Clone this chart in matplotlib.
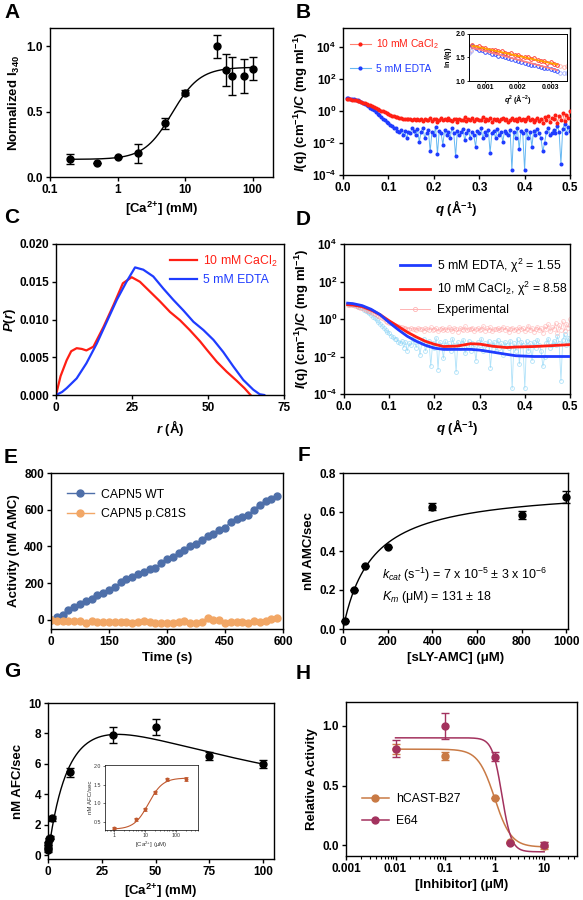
import numpy as np
import matplotlib
matplotlib.use("Agg")
import matplotlib.pyplot as plt
from matplotlib.lines import Line2D
from matplotlib.ticker import FixedLocator, NullLocator, LogLocator, NullFormatter

plt.rcParams.update({
    "font.family": ["Liberation Sans", "DejaVu Sans"],
    "font.weight": "bold",
    "mathtext.fontset": "custom",
    "mathtext.rm": "Liberation Sans:weight=normal",
    "mathtext.it": "Liberation Sans:italic:weight=normal",
    "mathtext.bf": "Liberation Sans:bold",
    "mathtext.bfit": "Liberation Sans:italic:bold",
    "axes.linewidth": 1.0,
    "xtick.major.width": 1.0, "ytick.major.width": 1.0,
    "xtick.minor.width": 0.8, "ytick.minor.width": 0.8,
    "xtick.major.size": 3, "ytick.major.size": 3,
    "xtick.minor.size": 2, "ytick.minor.size": 2,
    "xtick.major.pad": 2, "ytick.major.pad": 2,
    "xtick.labelsize": 8.5, "ytick.labelsize": 8.5,
    "axes.labelsize": 9.5, "axes.labelweight": "bold",
    "axes.labelpad": 3,
    "legend.frameon": False,
})

# ---------------- data ----------------
# A: Ca2+ titration, normalized I340
a_ca = [0.2, 0.5, 1, 2, 5, 10, 30, 40, 50, 75, 100]
a_i340 = [0.138, 0.108, 0.155, 0.18, 0.41, 0.645, 1.0, 0.82, 0.775, 0.775, 0.83]
a_err = [0.04, 0.0, 0.0, 0.07, 0.04, 0.02, 0.09, 0.12, 0.145, 0.13, 0.09]
a_fit = dict(bottom=0.135, top=0.84, ec50=6.4, hill=2.1)

# B / D: SAXS curves
q = np.round(np.arange(0.008, 0.5001, 0.004), 3)
saxs_cacl2 = [5.8, 5.6, 5.5, 5.3, 5.0, 4.7, 4.4, 4.1, 3.7, 3.4,
              3.1, 2.8, 2.55, 2.3, 2.1, 1.9, 1.65, 1.45, 1.25, 1.08,
              0.95, 0.83, 0.73, 0.65, 0.58, 0.52, 0.47, 0.43, 0.40, 0.37,
              0.36, 0.33, 0.34, 0.31, 0.30, 0.32, 0.29,
              0.30, 0.26, 0.34, 0.28, 0.31, 0.24, 0.33, 0.29, 0.27, 0.36,
              0.25, 0.30, 0.32, 0.22, 0.29, 0.35, 0.27, 0.31, 0.26, 0.38,
              0.28, 0.24, 0.33, 0.30, 0.21, 0.34, 0.29, 0.27, 0.40, 0.25,
              0.31, 0.28, 0.35, 0.23, 0.30, 0.33, 0.26, 0.29, 0.42, 0.24,
              0.32, 0.27, 0.36, 0.22, 0.31, 0.28, 0.34, 0.25, 0.30, 0.39,
              0.26, 0.33, 0.20, 0.29, 0.35, 0.27, 0.31, 0.24, 0.37, 0.28,
              0.32, 0.23, 0.30, 0.45, 0.26, 0.34, 0.21, 0.29, 0.38, 0.25,
              0.33, 0.18, 0.41, 0.28, 0.52, 0.22, 0.36, 0.30, 0.60, 0.19,
              0.47, 0.27, 0.75, 0.24, 0.55, 0.35, 0.95]
saxs_edta = [6.5, 6.3, 6.1, 5.8, 5.4, 5.0, 4.6, 4.2, 3.7, 3.2,
             2.8, 2.4, 2.0, 1.65, 1.35, 1.1, 0.88, 0.70, 0.55, 0.43,
             0.34, 0.27, 0.21, 0.17, 0.13, 0.11, 0.085, 0.09, 0.06, 0.05,
             0.07, 0.03, 0.06, 0.02, 0.05, 0.04, 0.09,
             0.06, 0.03, 0.08, 0.012, 0.05, 0.09, 0.02, 0.04, 0.07, 0.003,
             0.05, 0.03, 0.10, 0.002, 0.06, 0.04, 0.008, 0.07, 0.03, 0.05,
             0.02, 0.09, 0.04, 0.0015, 0.06, 0.03, 0.05, 0.08, 0.015, 0.04,
             0.07, 0.02, 0.05, 0.03, 0.006, 0.06, 0.04, 0.09, 0.02, 0.05,
             0.03, 0.07, 0.0025, 0.04, 0.06, 0.02, 0.08, 0.03, 0.05, 0.012,
             0.06, 0.04, 0.03, 0.07, 0.0002, 0.05, 0.02, 0.09, 0.004, 0.06,
             0.04, 0.0002, 0.07, 0.02, 0.05, 0.006, 0.06, 0.03, 0.08, 0.04,
             0.02, 0.003, 0.01, 0.05, 0.09, 0.03, 0.04, 0.07, 0.04, 0.12,
             0.05, 0.0005, 0.08, 0.15, 0.04, 0.10, 0.06]

# B inset: Guinier region
guin_q2 = [0.0006, 0.0007, 0.0008, 0.0009, 0.0010, 0.0011, 0.0012, 0.0013, 0.0014,
           0.0015, 0.0016, 0.0017, 0.0018, 0.0019, 0.0020, 0.0021, 0.0022, 0.0023,
           0.0024, 0.0025, 0.0026, 0.0027, 0.0028, 0.0029, 0.0030, 0.0031, 0.0032]
guin_cacl2 = [1.76, 1.73, 1.74, 1.70, 1.71, 1.67, 1.66, 1.66, 1.63, 1.64, 1.60, 1.58,
              1.59, 1.55, 1.56, 1.52, 1.51, 1.50, 1.47, 1.48, 1.44, 1.43, 1.42, 1.39,
              1.40, 1.36, 1.35]
guin_edta = [1.74, 1.70, 1.66, 1.66, 1.62, 1.61, 1.58, 1.57, 1.54, 1.53, 1.50, 1.49,
             1.46, 1.45, 1.42, 1.41, 1.38, 1.37, 1.35, 1.34, 1.31, 1.30, 1.28, 1.27,
             1.25, 1.24, 1.21]
guin_out_q2 = [0.0005, 0.00055, 0.0033, 0.0034, 0.0035]
guin_out_cacl2 = [1.62, 1.66, 1.32, 1.30, 1.31]
guin_out_edta = [1.60, 1.64, 1.18, 1.17, 1.16]
guin_fit_q2 = [0.0006, 0.0032]
guin_fit_cacl2 = [1.75, 1.35]
guin_fit_edta = [1.71, 1.23]

# C: pair distance distribution
pr_r_cacl2 = [0, 1.5, 3.5, 5, 6.8, 8.5, 10, 12.3, 15.6, 18.9, 22, 24.9, 27.6, 30.9,
              34.2, 37.5, 40.8, 44, 47.4, 49.6, 52.9, 56.1, 59.4, 62, 64]
pr_cacl2 = [0, 0.0025, 0.0046, 0.0058, 0.0062, 0.0061, 0.0059, 0.0064, 0.0090, 0.0119,
            0.0148, 0.0156, 0.0150, 0.0137, 0.0124, 0.0110, 0.0099, 0.0086, 0.0071,
            0.0060, 0.0044, 0.0031, 0.0019, 0.0009, 0.0]
pr_r_edta = [0, 2, 3.5, 6.8, 10, 13.4, 16.7, 20, 23.2, 26, 28.7, 32, 35.3, 38.6, 41.9,
             45.2, 48.5, 51.8, 55, 58.3, 61.6, 64.9, 67, 68.5]
pr_edta = [0, 0.0004, 0.0009, 0.0022, 0.0042, 0.0068, 0.0097, 0.0126, 0.0150, 0.0169,
           0.0166, 0.0157, 0.0141, 0.0126, 0.0112, 0.0097, 0.0086, 0.0073, 0.0057,
           0.0038, 0.0020, 0.0007, 0.0001, 0.0]

# D: model fits
fit_q = [0.008, 0.02, 0.04, 0.06, 0.08, 0.10, 0.12, 0.14, 0.16, 0.18, 0.20, 0.22,
         0.25, 0.28, 0.30, 0.33, 0.36, 0.38, 0.42, 0.46, 0.50]
fit_edta = [7.0, 6.6, 5.2, 3.3, 1.7, 0.65, 0.27, 0.12, 0.065, 0.04, 0.028, 0.024,
            0.024, 0.024, 0.022, 0.017, 0.013, 0.011, 0.010, 0.010, 0.010]
fit_cacl2 = [5.8, 5.5, 4.6, 3.0, 1.7, 0.8, 0.4, 0.2, 0.11, 0.065, 0.045, 0.034,
             0.036, 0.048, 0.046, 0.035, 0.030, 0.032, 0.034, 0.038, 0.043]

# E: activity time course
time_s = np.arange(0, 600, 15)
act_wt = [0, 18, 27, 51, 68, 88, 100, 113, 137, 146, 165, 178, 205, 223, 234, 247,
          262, 275, 280, 308, 333, 342, 366, 379, 403, 412, 436, 458, 467, 491, 500,
          535, 549, 562, 573, 601, 628, 645, 659, 672]
act_c81s = [0, -5, -8, -8, -5, -5, -15, -8, -10, -10, -12, -10, -10, -12, -18, -10,
            -5, -12, -15, -20, -15, -15, -10, -8, -18, -20, -12, 8, 0, 0, -15, -12,
            -10, -10, -15, -5, -10, -5, 5, 10]

# F: Michaelis-Menten
f_sub = [10, 50, 100, 200, 400, 800, 1000]
f_rate = [0.043, 0.2, 0.324, 0.418, 0.628, 0.585, 0.676]
f_err = [0, 0, 0, 0, 0.02, 0.02, 0.03]
f_fit = dict(vmax=0.73, km=131)

# G: Ca2+ dependence (mM) + inset (uM)
g_ca = [0.01, 0.05, 0.1, 0.5, 1, 2, 10, 30, 50, 75, 100]
g_rate = [0.33, 0.55, 0.77, 1.05, 1.15, 2.42, 5.45, 7.9, 8.42, 6.53, 5.98]
g_err = [0.1, 0.1, 0.1, 0.1, 0.1, 0.15, 0.3, 0.55, 0.55, 0.28, 0.28]
g_fit = dict(v=14.8, k=14, ki=75)
gi_ca = [1, 5, 10, 20, 50, 200]
gi_rate = [0.34, 0.565, 0.84, 1.29, 1.64, 1.65]
gi_err = [0.02, 0.03, 0.04, 0.04, 0.05, 0.06]
gi_fit = dict(bottom=0.3, top=1.68, ec50=12.6, hill=1.9)

# H: inhibitor titration
h_conc = [0.01, 0.1, 1, 2, 10]
h_cast = [0.807, 0.748, 0.40, 0.025, -0.005]
h_cast_err = [0.04, 0.03, 0.0, 0.0, 0.03]
h_e64 = [0.81, 1.0, 0.742, 0.02, 0.005]
h_e64_err = [0.07, 0.11, 0.035, 0.0, 0.02]
h_cast_fit = dict(top=0.805, bottom=-0.015, ic50=1.0, hill=2.6)
h_e64_fit = dict(top=0.9, bottom=-0.055, ic50=1.4, hill=4.5)

RED = "#ff1f14"
BLUE = "#1f3cff"
CA2 = r"[Ca$\mathregular{^{2{+}}}$]"

W, H = 583, 900
fig = plt.figure(figsize=(W / 100, H / 100), dpi=100)


def panel(l, t, r, b):
    return fig.add_axes([l / W, 1 - b / H, (r - l) / W, (b - t) / H])


def logistic(x, p):
    x = np.asarray(x, dtype=float)
    return p["bottom"] + (p["top"] - p["bottom"]) / (1 + (p["ec50"] / x) ** p["hill"])


def inhib(x, p):
    x = np.asarray(x, dtype=float)
    return p["bottom"] + (p["top"] - p["bottom"]) / (1 + (x / p["ic50"]) ** p["hill"])


def letter(x, y, s):
    fig.text(x / W, 1 - y / H, s, fontsize=15, fontweight="bold", va="top", ha="left")


LEG = {"weight": "normal", "size": 8.8}

# ---------------- A ----------------
ax = panel(50, 28, 273, 177)
ax.errorbar(a_ca, a_i340, yerr=a_err, fmt="o", color="black", ms=5,
            capsize=2.8, elinewidth=1, capthick=1, clip_on=False)
xx = np.logspace(np.log10(0.2), 2, 300)
ax.plot(xx, logistic(xx, a_fit), color="black", lw=1)
ax.set_xscale("log")
ax.set_xlim(0.1, 200)
ax.set_ylim(0, 1.14)
ax.xaxis.set_major_locator(FixedLocator([0.1, 1, 10, 100]))
ax.xaxis.set_minor_locator(NullLocator())
ax.set_xticklabels(["0.1", "1", "10", "100"])
ax.set_yticks([0, 0.5, 1.0])
ax.set_yticklabels(["0.0", "0.5", "1.0"])
ax.set_xlabel(CA2 + " (mM)")
ax.set_ylabel(r"Normalized I$\mathregular{_{340}}$")


def saxs_axes(ax, top):
    ax.set_yscale("log")
    ax.set_xlim(0, 0.5)
    ax.set_ylim(1e-4, top)
    ax.yaxis.set_major_locator(FixedLocator([1e-4, 1e-2, 1, 1e2, 1e4]))
    ax.yaxis.set_minor_locator(NullLocator())
    ax.set_xticks([0, 0.1, 0.2, 0.3, 0.4, 0.5])
    ax.set_xlabel(r"$\mathbfit{q}$ (Å$\mathregular{^{-1}}$)")
    ax.set_ylabel(r"$\mathbfit{I}$(q) (cm$\mathregular{^{-1}}$)/$\mathbfit{C}$ (mg ml$\mathregular{^{-1}}$)",
                  labelpad=1)


# ---------------- B ----------------
ax = panel(343, 28, 570, 175)
ax.plot(q, saxs_edta, "-", color="#66b8f2", lw=0.7, zorder=1)
ax.plot(q, saxs_edta, "o", color=BLUE, ms=1.9, zorder=2)
ax.plot(q, saxs_cacl2, "-", color="#ff8070", lw=0.7, zorder=3)
ax.plot(q, saxs_cacl2, "o", color=RED, ms=1.9, zorder=4)
saxs_axes(ax, 10 ** 5.2)
hb = [Line2D([], [], color="#ff8070", lw=0.8, marker="o", ms=2, mfc=RED, mec=RED),
      Line2D([], [], color="#66b8f2", lw=0.8, marker="o", ms=2, mfc=BLUE, mec=BLUE)]
ax.legend(hb, [r"10 mM CaCl$\mathregular{_2}$", "5 mM EDTA"], loc="upper left",
          bbox_to_anchor=(-0.01, 1.0), prop={"weight": "normal", "size": 7.4},
          labelcolor=[RED, BLUE], handlelength=2.0, handletextpad=0.5, labelspacing=1.25)

ins = panel(469, 34, 567, 81)
ins.plot(guin_out_q2, guin_out_cacl2, "o", mfc="none", mec="#ffb0a8", ms=2.6, mew=0.6)
ins.plot(guin_out_q2, guin_out_edta, "o", mfc="none", mec="#a8b4ff", ms=2.6, mew=0.6)
ins.plot(guin_q2, guin_edta, "o", mfc="none", mec=BLUE, ms=2.6, mew=0.6)
ins.plot(guin_q2, guin_cacl2, "o", mfc="none", mec=RED, ms=2.6, mew=0.6)
ins.plot(guin_fit_q2, guin_fit_edta, color="#ff7f7f", lw=1.3)
ins.plot(guin_fit_q2, guin_fit_cacl2, color="#ffa000", lw=1.3)
ins.set_xlim(0.0005, 0.0035)
ins.set_ylim(1.0, 2.0)
ins.set_xticks([0.001, 0.002, 0.003])
ins.set_xticklabels(["0.001", "0.002", "0.003"])
ins.set_yticks([1.0, 1.5, 2.0])
ins.tick_params(labelsize=5, length=1.5, width=0.6, pad=1)
for s in ins.spines.values():
    s.set_linewidth(0.7)
ins.set_xlabel(r"$\mathbfit{q}$$\mathregular{^2}$ (Å$\mathregular{^{-2}}$)", fontsize=5.2, labelpad=1)
ins.set_ylabel(r"ln $\mathbfit{I}$(q)", fontsize=5.2, labelpad=1)

# ---------------- C ----------------
ax = panel(56, 244, 284, 395)
ax.plot(pr_r_cacl2, pr_cacl2, color=RED, lw=1.6, label=r"10 mM CaCl$\mathregular{_2}$")
ax.plot(pr_r_edta, pr_edta, color=BLUE, lw=1.6, label="5 mM EDTA")
ax.set_xlim(0, 75)
ax.set_ylim(0, 0.020)
ax.set_xticks([0, 25, 50, 75])
ax.set_yticks([0, 0.005, 0.010, 0.015, 0.020])
ax.set_yticklabels(["0.000", "0.005", "0.010", "0.015", "0.020"])
ax.set_xlabel(r"$\mathbfit{r}$ (Å)")
ax.set_ylabel(r"$\mathbfit{P}$($\mathbfit{r}$)", labelpad=1)
ax.legend(loc="upper right", bbox_to_anchor=(1.02, 1.01), prop=LEG,
          labelcolor=[RED, BLUE], handlelength=2.2, handletextpad=0.5, labelspacing=0.45)

# ---------------- D ----------------
ax = panel(344, 244, 570, 394)
ax.plot(q, saxs_edta, "-o", color="#8fd6f7", mfc="none", ms=2.8, mew=0.6, lw=0.6, alpha=0.7, zorder=1)
ax.plot(q, saxs_cacl2, "-o", color="#ff9c9c", mfc="none", ms=2.8, mew=0.6, lw=0.6, alpha=0.5, zorder=2)
ax.plot(fit_q, fit_cacl2, color=RED, lw=2.0, zorder=3)
ax.plot(fit_q, fit_edta, color=BLUE, lw=2.0, zorder=4)
saxs_axes(ax, 1e4)
hd = [Line2D([], [], color=BLUE, lw=2.0),
      Line2D([], [], color=RED, lw=2.0),
      Line2D([], [], color="#ffb4b4", lw=0.7, marker="o", mfc="none", ms=3, mew=0.6)]
ax.legend(hd, [r"5 mM EDTA, χ$\mathregular{^2}$ = 1.55",
               r"10 mM CaCl$\mathregular{_2}$, χ$\mathregular{^2}$ = 8.58",
               "Experimental"], loc="upper left", bbox_to_anchor=(0.2, 0.99),
          prop=LEG, handlelength=2.4, handletextpad=0.6, labelspacing=0.45)

# ---------------- E ----------------
ax = panel(51, 473, 283, 629)
ax.plot(time_s, act_wt, "-o", color="#4e6fa9", ms=5, lw=1, label="CAPN5 WT")
ax.plot(time_s, act_c81s, "-o", color="#f2a766", ms=5, lw=1, label="CAPN5 p.C81S")
ax.set_xlim(0, 600)
ax.set_ylim(-50, 800)
ax.set_xticks([0, 150, 300, 450, 600])
ax.set_yticks([0, 200, 400, 600, 800])
ax.set_xlabel("Time (s)")
ax.set_ylabel("Activity (nM AMC)")
ax.legend(loc="upper left", bbox_to_anchor=(0.02, 0.97), prop=LEG,
          handlelength=2.2, handletextpad=0.6, labelspacing=0.6)

# ---------------- F ----------------
ax = panel(343, 473, 568, 629)
ax.errorbar(f_sub, f_rate, yerr=f_err, fmt="o", color="black", ms=5,
            capsize=2.8, elinewidth=1, capthick=1, clip_on=False, zorder=3)
ss = np.linspace(0, 1000, 300)
ax.plot(ss, f_fit["vmax"] * ss / (f_fit["km"] + ss), color="black", lw=1)
ax.set_xlim(0, 1008)
ax.set_ylim(0, 0.8)
ax.set_xticks([0, 200, 400, 600, 800, 1000])
ax.set_yticks([0, 0.2, 0.4, 0.6, 0.8])
ax.set_xlabel("[sLY-AMC] (μM)")
ax.set_ylabel("nM AMC/sec")
ax.text(0.175, 0.345, r"$k_{cat}$ (s$^{-1}$) = 7 x 10$^{-5}$ ± 3 x 10$^{-6}$",
        transform=ax.transAxes, fontsize=9, fontweight="normal", va="center")
ax.text(0.175, 0.205, r"$K_m$ (μM) = 131 ± 18",
        transform=ax.transAxes, fontsize=9, fontweight="normal", va="center")

# ---------------- G ----------------
ax = panel(48, 703, 274, 859)
ax.errorbar(g_ca, g_rate, yerr=g_err, fmt="o", color="black", ms=5,
            capsize=2.8, elinewidth=1, capthick=1, clip_on=False, zorder=3)
cc = np.linspace(0, 100, 400)
ax.plot(cc, g_fit["v"] * cc / (g_fit["k"] + cc + cc ** 2 / g_fit["ki"]), color="black", lw=1)
ax.set_xlim(0, 105)
ax.set_ylim(-0.25, 10)
ax.set_xticks([0, 25, 50, 75, 100])
ax.set_yticks([0, 2, 4, 6, 8, 10])
ax.set_xlabel(CA2 + " (mM)")
ax.set_ylabel("nM AFC/sec")

gin = panel(105, 765, 198, 830)
GI = "#c0592f"
gin.errorbar(gi_ca, gi_rate, yerr=gi_err, fmt="o", color=GI, ms=1.8,
             capsize=1.2, elinewidth=0.6, capthick=0.6)
ci = np.logspace(0, np.log10(200), 200)
gin.plot(ci, logistic(ci, gi_fit), color=GI, lw=0.8)
gin.set_xscale("log")
gin.set_xlim(0.5, 500)
gin.set_ylim(0.28, 2.03)
gin.xaxis.set_major_locator(FixedLocator([1, 10, 100]))
gin.set_xticklabels(["1", "10", "100"])
gin.xaxis.set_minor_locator(LogLocator(base=10, subs=np.arange(2, 10)))
gin.xaxis.set_minor_formatter(NullFormatter())
gin.set_yticks([0.5, 1.0, 1.5, 2.0])
gin.tick_params(labelsize=3.8, length=1.5, width=0.5, pad=1, colors="#333333")
gin.tick_params(which="minor", length=1, width=0.4)
for lbl in gin.get_xticklabels() + gin.get_yticklabels():
    lbl.set_fontweight("normal")
for s in gin.spines.values():
    s.set_linewidth(0.5)
gin.set_xlabel(CA2 + " (μM)", fontsize=4.4, fontweight="normal", labelpad=1, color="#333333")
gin.set_ylabel("nM AFC/sec", fontsize=4.4, fontweight="normal", labelpad=1, color="#333333")

# ---------------- H ----------------
ax = panel(346, 702, 577, 856)
C_CAST = "#c97a45"
C_E64 = "#a3325e"
hh = np.logspace(-2, 1, 300)
ax.plot(hh, inhib(hh, h_cast_fit), color=C_CAST, lw=1.1)
ax.plot(hh, inhib(hh, h_e64_fit), color=C_E64, lw=1.1)
ax.errorbar(h_conc, h_cast, yerr=h_cast_err, fmt="o", color=C_CAST, ms=5,
            capsize=2.8, elinewidth=1, capthick=1, zorder=3)
ax.errorbar(h_conc, h_e64, yerr=h_e64_err, fmt="o", color=C_E64, ms=5,
            capsize=2.8, elinewidth=1, capthick=1, zorder=3)
ax.set_xscale("log")
ax.set_xlim(0.001, 46)
ax.set_ylim(-0.09, 1.2)
ax.xaxis.set_major_locator(FixedLocator([0.001, 0.01, 0.1, 1, 10]))
ax.set_xticklabels(["0.001", "0.01", "0.1", "1", "10"])
ax.xaxis.set_minor_locator(LogLocator(base=10, subs=np.arange(2, 10)))
ax.xaxis.set_minor_formatter(NullFormatter())
ax.set_yticks([0, 0.5, 1.0])
ax.set_yticklabels(["0.0", "0.5", "1.0"])
ax.set_xlabel("[Inhibitor] (μM)")
ax.set_ylabel("Relative Activity")
hl = [Line2D([], [], color=C_CAST, lw=1.1, marker="o", ms=5),
      Line2D([], [], color=C_E64, lw=1.1, marker="o", ms=5)]
ax.legend(hl, ["hCAST-B27", "E64"], loc="upper left", bbox_to_anchor=(0.02, 0.48),
          prop=LEG, handlelength=2.2, handletextpad=0.6, labelspacing=0.8)

# panel letters
letter(4, 3, "A")
letter(296, 3, "B")
letter(4, 208, "C")
letter(296, 210, "D")
letter(4, 448, "E")
letter(298, 446, "F")
letter(4, 662, "G")
letter(296, 664, "H")

fig.savefig("out.png", dpi=100)
